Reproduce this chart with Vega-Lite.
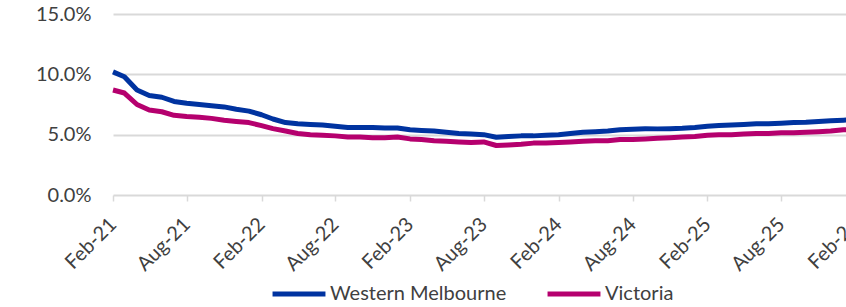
{
  "$schema": "https://vega.github.io/schema/vega-lite/v6.json",
  "autosize": {"type": "none"},
  "width": 733,
  "height": 181,
  "padding": {"left": 113, "top": 14, "right": 0, "bottom": 112},
  "background": "white",
  "config": {
    "view": {"stroke": null},
    "font": "Lato",
    "axis": {"labelFont": "Lato", "labelColor": "#404040", "labelFontSize": 20},
    "legend": {"labelFont": "Lato", "labelColor": "#404040", "labelFontSize": 20}
  },
  "data": {
    "values": [
      {"date": "2021/02/01", "region": "Western Melbourne", "value": 0.102},
      {"date": "2021/03/01", "region": "Western Melbourne", "value": 0.098},
      {"date": "2021/04/01", "region": "Western Melbourne", "value": 0.087},
      {"date": "2021/05/01", "region": "Western Melbourne", "value": 0.0825},
      {"date": "2021/06/01", "region": "Western Melbourne", "value": 0.081},
      {"date": "2021/07/01", "region": "Western Melbourne", "value": 0.0775},
      {"date": "2021/08/01", "region": "Western Melbourne", "value": 0.076},
      {"date": "2021/09/01", "region": "Western Melbourne", "value": 0.075},
      {"date": "2021/10/01", "region": "Western Melbourne", "value": 0.074},
      {"date": "2021/11/01", "region": "Western Melbourne", "value": 0.073},
      {"date": "2021/12/01", "region": "Western Melbourne", "value": 0.071},
      {"date": "2022/01/01", "region": "Western Melbourne", "value": 0.0695},
      {"date": "2022/02/01", "region": "Western Melbourne", "value": 0.0665},
      {"date": "2022/03/01", "region": "Western Melbourne", "value": 0.063},
      {"date": "2022/04/01", "region": "Western Melbourne", "value": 0.06},
      {"date": "2022/05/01", "region": "Western Melbourne", "value": 0.059},
      {"date": "2022/06/01", "region": "Western Melbourne", "value": 0.0585},
      {"date": "2022/07/01", "region": "Western Melbourne", "value": 0.058},
      {"date": "2022/08/01", "region": "Western Melbourne", "value": 0.057},
      {"date": "2022/09/01", "region": "Western Melbourne", "value": 0.056},
      {"date": "2022/10/01", "region": "Western Melbourne", "value": 0.056},
      {"date": "2022/11/01", "region": "Western Melbourne", "value": 0.056},
      {"date": "2022/12/01", "region": "Western Melbourne", "value": 0.0555},
      {"date": "2023/01/01", "region": "Western Melbourne", "value": 0.0555},
      {"date": "2023/02/01", "region": "Western Melbourne", "value": 0.054},
      {"date": "2023/03/01", "region": "Western Melbourne", "value": 0.0535},
      {"date": "2023/04/01", "region": "Western Melbourne", "value": 0.053},
      {"date": "2023/05/01", "region": "Western Melbourne", "value": 0.052},
      {"date": "2023/06/01", "region": "Western Melbourne", "value": 0.051},
      {"date": "2023/07/01", "region": "Western Melbourne", "value": 0.0505},
      {"date": "2023/08/01", "region": "Western Melbourne", "value": 0.05},
      {"date": "2023/09/01", "region": "Western Melbourne", "value": 0.0478},
      {"date": "2023/10/01", "region": "Western Melbourne", "value": 0.0485},
      {"date": "2023/11/01", "region": "Western Melbourne", "value": 0.049},
      {"date": "2023/12/01", "region": "Western Melbourne", "value": 0.049},
      {"date": "2024/01/01", "region": "Western Melbourne", "value": 0.0495},
      {"date": "2024/02/01", "region": "Western Melbourne", "value": 0.05},
      {"date": "2024/03/01", "region": "Western Melbourne", "value": 0.051},
      {"date": "2024/04/01", "region": "Western Melbourne", "value": 0.052},
      {"date": "2024/05/01", "region": "Western Melbourne", "value": 0.0525},
      {"date": "2024/06/01", "region": "Western Melbourne", "value": 0.053},
      {"date": "2024/07/01", "region": "Western Melbourne", "value": 0.054},
      {"date": "2024/08/01", "region": "Western Melbourne", "value": 0.0545},
      {"date": "2024/09/01", "region": "Western Melbourne", "value": 0.055},
      {"date": "2024/10/01", "region": "Western Melbourne", "value": 0.0548},
      {"date": "2024/11/01", "region": "Western Melbourne", "value": 0.055},
      {"date": "2024/12/01", "region": "Western Melbourne", "value": 0.0553},
      {"date": "2025/01/01", "region": "Western Melbourne", "value": 0.056},
      {"date": "2025/02/01", "region": "Western Melbourne", "value": 0.057},
      {"date": "2025/03/01", "region": "Western Melbourne", "value": 0.0575},
      {"date": "2025/04/01", "region": "Western Melbourne", "value": 0.058},
      {"date": "2025/05/01", "region": "Western Melbourne", "value": 0.0585},
      {"date": "2025/06/01", "region": "Western Melbourne", "value": 0.059},
      {"date": "2025/07/01", "region": "Western Melbourne", "value": 0.059},
      {"date": "2025/08/01", "region": "Western Melbourne", "value": 0.0595},
      {"date": "2025/09/01", "region": "Western Melbourne", "value": 0.06},
      {"date": "2025/10/01", "region": "Western Melbourne", "value": 0.0603},
      {"date": "2025/11/01", "region": "Western Melbourne", "value": 0.061},
      {"date": "2025/12/01", "region": "Western Melbourne", "value": 0.0615},
      {"date": "2026/01/01", "region": "Western Melbourne", "value": 0.062},
      {"date": "2026/02/01", "region": "Western Melbourne", "value": 0.0625},
      {"date": "2021/02/01", "region": "Victoria", "value": 0.087},
      {"date": "2021/03/01", "region": "Victoria", "value": 0.0845},
      {"date": "2021/04/01", "region": "Victoria", "value": 0.075},
      {"date": "2021/05/01", "region": "Victoria", "value": 0.0705},
      {"date": "2021/06/01", "region": "Victoria", "value": 0.069},
      {"date": "2021/07/01", "region": "Victoria", "value": 0.066},
      {"date": "2021/08/01", "region": "Victoria", "value": 0.065},
      {"date": "2021/09/01", "region": "Victoria", "value": 0.0645},
      {"date": "2021/10/01", "region": "Victoria", "value": 0.0635},
      {"date": "2021/11/01", "region": "Victoria", "value": 0.062},
      {"date": "2021/12/01", "region": "Victoria", "value": 0.061},
      {"date": "2022/01/01", "region": "Victoria", "value": 0.06},
      {"date": "2022/02/01", "region": "Victoria", "value": 0.0575},
      {"date": "2022/03/01", "region": "Victoria", "value": 0.055},
      {"date": "2022/04/01", "region": "Victoria", "value": 0.053},
      {"date": "2022/05/01", "region": "Victoria", "value": 0.051},
      {"date": "2022/06/01", "region": "Victoria", "value": 0.05},
      {"date": "2022/07/01", "region": "Victoria", "value": 0.0495},
      {"date": "2022/08/01", "region": "Victoria", "value": 0.049},
      {"date": "2022/09/01", "region": "Victoria", "value": 0.048},
      {"date": "2022/10/01", "region": "Victoria", "value": 0.048},
      {"date": "2022/11/01", "region": "Victoria", "value": 0.0475},
      {"date": "2022/12/01", "region": "Victoria", "value": 0.0475},
      {"date": "2023/01/01", "region": "Victoria", "value": 0.048},
      {"date": "2023/02/01", "region": "Victoria", "value": 0.0465},
      {"date": "2023/03/01", "region": "Victoria", "value": 0.046},
      {"date": "2023/04/01", "region": "Victoria", "value": 0.045},
      {"date": "2023/05/01", "region": "Victoria", "value": 0.0445},
      {"date": "2023/06/01", "region": "Victoria", "value": 0.044},
      {"date": "2023/07/01", "region": "Victoria", "value": 0.0435},
      {"date": "2023/08/01", "region": "Victoria", "value": 0.044},
      {"date": "2023/09/01", "region": "Victoria", "value": 0.041},
      {"date": "2023/10/01", "region": "Victoria", "value": 0.0415},
      {"date": "2023/11/01", "region": "Victoria", "value": 0.042},
      {"date": "2023/12/01", "region": "Victoria", "value": 0.043},
      {"date": "2024/01/01", "region": "Victoria", "value": 0.043},
      {"date": "2024/02/01", "region": "Victoria", "value": 0.0435},
      {"date": "2024/03/01", "region": "Victoria", "value": 0.044},
      {"date": "2024/04/01", "region": "Victoria", "value": 0.0445},
      {"date": "2024/05/01", "region": "Victoria", "value": 0.045},
      {"date": "2024/06/01", "region": "Victoria", "value": 0.045},
      {"date": "2024/07/01", "region": "Victoria", "value": 0.046},
      {"date": "2024/08/01", "region": "Victoria", "value": 0.046},
      {"date": "2024/09/01", "region": "Victoria", "value": 0.0465},
      {"date": "2024/10/01", "region": "Victoria", "value": 0.047},
      {"date": "2024/11/01", "region": "Victoria", "value": 0.0475},
      {"date": "2024/12/01", "region": "Victoria", "value": 0.048},
      {"date": "2025/01/01", "region": "Victoria", "value": 0.0485},
      {"date": "2025/02/01", "region": "Victoria", "value": 0.0495},
      {"date": "2025/03/01", "region": "Victoria", "value": 0.05},
      {"date": "2025/04/01", "region": "Victoria", "value": 0.05},
      {"date": "2025/05/01", "region": "Victoria", "value": 0.0505},
      {"date": "2025/06/01", "region": "Victoria", "value": 0.051},
      {"date": "2025/07/01", "region": "Victoria", "value": 0.051},
      {"date": "2025/08/01", "region": "Victoria", "value": 0.0515},
      {"date": "2025/09/01", "region": "Victoria", "value": 0.0515},
      {"date": "2025/10/01", "region": "Victoria", "value": 0.052},
      {"date": "2025/11/01", "region": "Victoria", "value": 0.0525},
      {"date": "2025/12/01", "region": "Victoria", "value": 0.053},
      {"date": "2026/01/01", "region": "Victoria", "value": 0.054},
      {"date": "2026/02/01", "region": "Victoria", "value": 0.0545}
    ]
  },
  "mark": {"type": "line", "strokeWidth": 5, "strokeJoin": "round", "strokeCap": "butt"},
  "encoding": {
    "x": {
      "field": "date",
      "type": "temporal",
      "title": null,
      "scale": {
        "domain": [{"year": 2021, "month": 2, "date": 1}, {"year": 2026, "month": 2, "date": 1}],
        "range": [0, 743]
      },
      "axis": {
        "values": [
          {"year": 2021, "month": 2, "date": 1}, {"year": 2021, "month": 8, "date": 1},
          {"year": 2022, "month": 2, "date": 1}, {"year": 2022, "month": 8, "date": 1},
          {"year": 2023, "month": 2, "date": 1}, {"year": 2023, "month": 8, "date": 1},
          {"year": 2024, "month": 2, "date": 1}, {"year": 2024, "month": 8, "date": 1},
          {"year": 2025, "month": 2, "date": 1}, {"year": 2025, "month": 8, "date": 1},
          {"year": 2026, "month": 2, "date": 1}
        ],
        "format": "%b-%y",
        "labelAngle": -45,
        "labelAlign": "right",
        "labelBaseline": "middle",
        "labelPadding": 20,
        "grid": false,
        "domain": false,
        "ticks": true,
        "tickColor": "#d9d9d9",
        "tickWidth": 1.5,
        "tickSize": 6,
        "labelOverlap": false,
        "labelBound": false,
        "labelFlush": false
      }
    },
    "y": {
      "field": "value",
      "type": "quantitative",
      "title": null,
      "scale": {"domain": [0, 0.15]},
      "axis": {
        "values": [0, 0.05, 0.1, 0.15],
        "format": ".1%",
        "grid": true,
        "gridColor": "#d9d9d9",
        "gridWidth": 2,
        "domain": false,
        "ticks": false,
        "labelPadding": 22
      }
    },
    "color": {
      "field": "region",
      "type": "nominal",
      "sort": ["Western Melbourne", "Victoria"],
      "scale": {"domain": ["Western Melbourne", "Victoria"], "range": ["#0033A0", "#B5006E"]},
      "legend": {
        "title": null,
        "orient": "none",
        "legendX": 157,
        "legendY": 251,
        "direction": "horizontal",
        "symbolType": "stroke",
        "symbolSize": 2800,
        "symbolStrokeWidth": 5,
        "labelOffset": 2,
        "labelLimit": 0,
        "columnPadding": 30
      }
    }
  }
}
